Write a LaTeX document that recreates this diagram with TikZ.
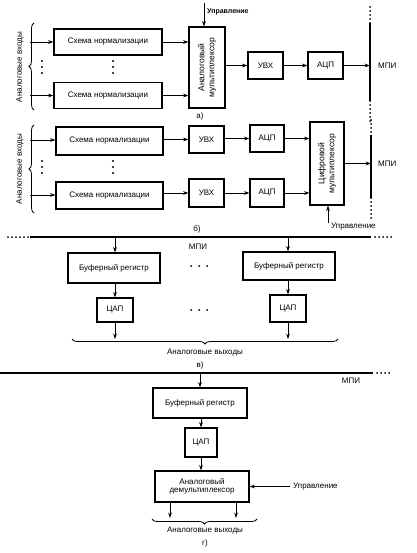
\documentclass[tikz,border=0pt]{standalone}
\usepackage{fontspec}
\setmainfont{Liberation Sans}
\usetikzlibrary{arrows.meta,decorations.pathreplacing}
\tikzset{
  blk/.style={draw, line width=1.1pt, inner sep=1pt, align=center, font=\fontsize{8}{8.5}\selectfont},
  arr/.style={-{Stealth[length=5.5pt,width=3.8pt]}, line width=0.9pt},
  busline/.style={line width=2.4pt},
  busdots/.style={line width=2pt, line cap=round, dash pattern=on 0pt off 4pt},
  lbl/.style={inner sep=0pt, font=\fontsize{8}{8.5}\selectfont},
  dotv/.style={circle, fill, inner sep=0pt, minimum size=2.4pt},
  brc/.style={decorate, decoration={brace, amplitude=5pt}, line width=0.8pt}
}
\begin{document}
\begin{tikzpicture}[x=1pt,y=-1pt]
\path[use as bounding box, fill=white] (0,0) rectangle (416,553);

% ===== a) =====
\node[blk, minimum width=108pt, minimum height=26pt] (a1) at (108,42) {Схема нормализации};
\node[blk, minimum width=108pt, minimum height=26pt] (a2) at (108,95.5) {Схема нормализации};
\node[blk, minimum width=36pt, minimum height=81pt] (amux) at (207,67.5) {};
\node[lbl, rotate=90, align=center, font=\fontsize{8.5}{10}\selectfont] at (amux.center) {Аналоговый\\мультиплексор};
\node[blk, minimum width=35pt, minimum height=27pt] (auvx) at (265.5,65.5) {УВХ};
\node[blk, minimum width=35pt, minimum height=27pt] (aadc) at (325.5,65.5) {АЦП};
\coordinate (ain1) at (30,42);
\coordinate (ain2) at (30,95.5);
\coordinate (abus) at (370,65.5);
\coordinate (actl) at (204,3);
\draw[arr] (ain1) -- (a1.west);
\draw[arr] (ain2) -- (a2.west);
\draw[arr] (a1.east) -- (a1.east -| amux.west);
\draw[arr] (a2.east) -- (a2.east -| amux.west);
\draw[arr] (amux.east |- auvx.west) -- (auvx.west);
\draw[arr] (auvx.east) -- (aadc.west);
\draw[arr] (aadc.east) -- (abus);
\draw[arr] (actl) -- (actl |- amux.north);
\node[lbl, anchor=west, font=\bfseries\fontsize{7}{8}\selectfont] (actlt) at (207,12) {Управление};
\draw[busline] (370,23) -- (370,101);
\draw[busdots] (370,7) -- (370,23);
\draw[busdots] (370,101) -- (370,121);
\node[lbl, anchor=west] (ampi) at (378,66) {МПИ};
\draw[brc] (34,110) -- (34,23);
\node[lbl, rotate=90] (ainl) at (20,67) {Аналоговые входы};
\foreach \yy in {61,67,73} { \node[dotv] at (42,\yy) {}; \node[dotv] at (113,\yy) {}; }
\node[lbl] (alab) at (200,116) {а)};

% ===== b) =====
\node[blk, minimum width=107pt, minimum height=28pt] (b1) at (109.5,141) {Схема нормализации};
\node[blk, minimum width=107pt, minimum height=27pt] (b2) at (109.5,195.5) {Схема нормализации};
\node[blk, minimum width=35pt, minimum height=27pt] (buvx1) at (206.5,139.5) {УВХ};
\node[blk, minimum width=35pt, minimum height=28pt] (buvx2) at (206.5,193) {УВХ};
\node[blk, minimum width=34pt, minimum height=27pt] (badc1) at (267,138.5) {АЦП};
\node[blk, minimum width=34pt, minimum height=28pt] (badc2) at (267,193) {АЦП};
\node[blk, minimum width=34pt, minimum height=83pt] (bmux) at (327,163.5) {};
\node[lbl, rotate=90, align=center, font=\fontsize{8.5}{10}\selectfont] at (bmux.center) {Цифровой\\мультиплексор};
\coordinate (bin1) at (30,140);
\coordinate (bin2) at (30,195);
\coordinate (bbus) at (371,163.5);
\coordinate (bctl) at (328,223);
\draw[arr] (bin1) -- (bin1 -| b1.west);
\draw[arr] (bin2) -- (bin2 -| b2.west);
\draw[arr] (b1.east |- buvx1.west) -- (buvx1.west);
\draw[arr] (buvx1.east |- badc1.west) -- (badc1.west);
\draw[arr] (badc1.east) -- (badc1.east -| bmux.west);
\draw[arr] (b2.east |- buvx2.west) -- (buvx2.west);
\draw[arr] (buvx2.east |- badc2.west) -- (badc2.west);
\draw[arr] (badc2.east) -- (badc2.east -| bmux.west);
\draw[arr] (bmux.east) -- (bbus);
\draw[arr] (bctl) -- (bctl |- bmux.south);
\node[lbl, anchor=west] (bctlt) at (331,227) {Управление};
\draw[busline] (371,135) -- (371,198);
\draw[busdots] (371,120) -- (371,135);
\draw[busdots] (371,198) -- (371,218);
\node[lbl, anchor=west] (bmpi) at (378,163.5) {МПИ};
\draw[brc] (34,213) -- (34,125);
\node[lbl, rotate=90] (binl) at (20,169) {Аналоговые входы};
\foreach \yy in {161,167,173} { \node[dotv] at (42,\yy) {}; \node[dotv] at (113,\yy) {}; }
\node[lbl] (blab) at (197,229) {б)};

% ===== c) =====
\draw[busline] (30,237) -- (371,237);
\draw[busdots] (8,237) -- (30,237);
\draw[busdots] (375,237) -- (391,237);
\node[lbl] (cmpi) at (198,247) {МПИ};
\node[blk, minimum width=92pt, minimum height=30pt] (c1) at (114,268) {Буферный регистр};
\node[blk, minimum width=92pt, minimum height=28pt] (c2) at (289,266) {Буферный регистр};
\node[blk, minimum width=36pt, minimum height=24pt] (cd1) at (115,310) {ЦАП};
\node[blk, minimum width=36pt, minimum height=27pt] (cd2) at (288,308.5) {ЦАП};
\foreach \xx in {191,199,207} { \node[dotv, minimum size=2pt] at (\xx,266) {}; \node[dotv, minimum size=2pt] at (\xx,310) {}; }
\coordinate (cb1) at (115,237);
\coordinate (cb2) at (288,237);
\coordinate (co1) at (115,339);
\coordinate (co2) at (288,339);
\draw[arr] (cb1) -- (cb1 |- c1.north);
\draw[arr] (cb2) -- (cb2 |- c2.north);
\draw[arr] (c1.south -| cd1.north) -- (cd1.north);
\draw[arr] (c2.south -| cd2.north) -- (cd2.north);
\draw[arr] (cd1.south) -- (co1);
\draw[arr] (cd2.south) -- (co2);
\draw[brc] (338,339) -- (72,339);
\node[lbl] (cout) at (205,353) {Аналоговые выходы};
\node[lbl] (clab) at (200,365) {в)};

% ===== d) =====
\draw[busline] (0,373) -- (373,373);
\draw[busdots] (377,373) -- (391,373);
\node[lbl] (dmpi) at (351,381) {МПИ};
\node[blk, minimum width=94pt, minimum height=30pt] (d1) at (200,403) {Буферный регистр};
\node[blk, minimum width=32pt, minimum height=29pt] (dd) at (201,442.5) {ЦАП};
\node[blk, minimum width=94pt, minimum height=31pt] (dm) at (202,486.5) {Аналоговый\\демультиплексор};
\coordinate (db) at (200,373);
\coordinate (dctl) at (290,486.5);
\coordinate (do1) at (170,518);
\coordinate (do2) at (236,518);
\draw[arr] (db) -- (d1.north);
\draw[arr] (d1.south -| dd.north) -- (dd.north);
\draw[arr] (dd.south) -- (dd.south |- dm.north);
\draw[arr] (dctl) -- (dm.east);
\node[lbl, anchor=west] (dctlt) at (293,486.5) {Управление};
\draw[arr] (do1 |- dm.south) -- (do1);
\draw[arr] (do2 |- dm.south) -- (do2);
\draw[brc] (257,519) -- (152,519);
\node[lbl] (dout) at (205,531) {Аналоговые выходы};
\node[lbl] (dlab) at (205,543) {г)};
\end{tikzpicture}
\end{document}
